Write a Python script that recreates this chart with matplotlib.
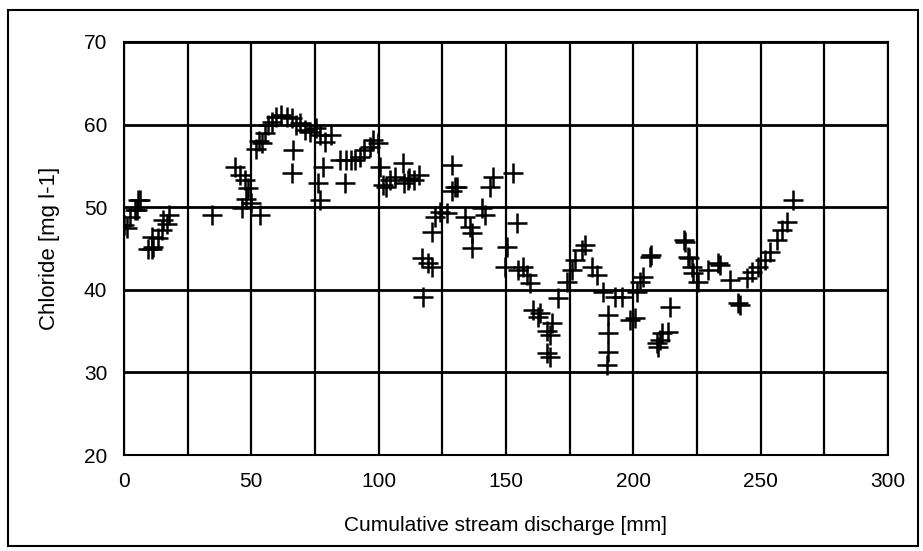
import matplotlib
matplotlib.use("Agg")
import matplotlib.pyplot as plt
from matplotlib.patches import Rectangle

plt.rcParams['font.family'] = ['Liberation Sans', 'DejaVu Sans']

# cumulative discharge [mm] and chloride [mg/l]
discharge = [0, 1.2, 2.4, 4.3, 5, 5.5, 6.3, 9.4, 11, 11, 11.4, 13.4, 15, 15.3, 17, 17.5,
             34.6, 43.6, 45.5, 47.5, 48.7, 48, 46.3, 50, 53.4,
             52, 53, 54.2, 55.4, 56.5, 58, 59.7, 61.6, 64, 66, 67.5, 69, 71, 73, 75.4,
             77, 79, 81.3, 85, 87, 89, 90.7, 92.6, 94.2, 96.6, 97.8, 99.7,
             66.4, 66, 78, 76.2, 77, 86.8,
             100.5, 101.7, 103, 104.4, 106.4, 109.5, 110, 111.5, 112, 114, 116,
             117, 117.4, 119.4, 121, 121, 122, 124, 126.8, 128.8, 129, 130, 130.7,
             134, 136, 136.6, 136.6, 140.6, 141.7, 143.7, 145, 152.7, 154.3,
             150.4, 149.6, 154.7, 156.7, 158.2, 159.4, 160.6, 162.5, 163.3, 166, 166,
             167.3, 167.3, 168, 170.4, 174, 175.9, 177, 179.8, 181, 183.7, 185.7,
             188, 190, 190, 190, 189.6, 192.8, 195.5, 198.7, 200.6, 201.4, 202.6,
             203.8, 206.5, 207, 209.3, 210.4, 209.7, 211.2, 213.6, 214.4,
             220, 220.3, 221.4, 222, 223, 223.4, 225.4, 229.3, 233.2, 234, 238,
             241, 241.9, 244.6, 246.6, 249, 251.7, 253.6, 256.4, 258.3, 260.3, 262.7]
chloride = [47.8, 47.5, 48.8, 49.7, 49.7, 50.9, 50.9, 45, 46.4, 45, 45.2, 46.3, 47.2, 48.4, 48, 49,
            49.1, 54.9, 53.9, 53.3, 52.3, 51, 49.9, 50.5, 49.1,
            57, 58, 57.8, 59, 60, 60.3, 60.9, 61.2, 60.9, 60.8, 60, 60.2, 59.3, 59.1, 59.6,
            58.7, 57.9, 58.7, 55.7, 55.7, 55.7, 55.7, 56.1, 56.9, 57.3, 58.1, 57.8,
            56.9, 54.1, 54.9, 52.9, 50.9, 52.9,
            54.9, 52.7, 52.4, 53.3, 53.6, 55.3, 52.9, 53.3, 53.5, 53.3, 53.9,
            43.9, 39.1, 43.2, 47, 42.8, 48.8, 49.4, 49.3, 52, 55.1, 52.4, 52.4,
            48.8, 47.6, 46.9, 45.1, 49.9, 49.1, 52.4, 53.7, 54.1, 48.1,
            45.2, 42.8, 42.4, 42.8, 41.8, 40.8, 37.6, 36.7, 37.2, 35, 32.4,
            34.5, 31.9, 36, 39, 41, 42.4, 43.6, 44.8, 45.4, 42.8, 41.8,
            39.7, 37, 34.8, 32.5, 30.9, 39.1, 39.1, 36.3, 36.6, 39.7, 41,
            41.5, 44, 44.2, 33.6, 33.9, 33.1, 34.8, 34.9, 37.9,
            46, 45.8, 44, 43.8, 42.8, 42, 41, 42.4, 43.2, 43, 41.2,
            38.4, 38.2, 41.4, 42.2, 42.8, 43.6, 44.6, 46, 47.2, 48.2, 50.9]

x_ticks = [0, 50, 100, 150, 200, 250, 300]
y_ticks = [20, 30, 40, 50, 60, 70]

fig = plt.figure(figsize=(9.23, 5.51), dpi=100)
ax = fig.add_axes([0.1343, 0.1742, 0.8277, 0.7496])

ax.plot(discharge, chloride, '+', color='black', markersize=15, markeredgewidth=1.8)

ax.set_xlim(0, 300)
ax.set_ylim(20, 70)
ax.set_xticks(x_ticks)
ax.set_yticks(y_ticks)
ax.set_xticks(range(0, 301, 25), minor=True)
ax.grid(True, which='major', axis='y', color='black', linewidth=2)
ax.grid(True, which='both', axis='x', color='black', linewidth=1.6)
ax.set_axisbelow(True)
ax.tick_params(which='both', length=0, labelsize=15, pad=12)
for s in ax.spines.values():
    s.set_linewidth(1.5)

ax.set_xlabel('Cumulative stream discharge [mm]', fontsize=15, labelpad=18)
ax.set_ylabel('Chloride [mg l-1]', fontsize=16, labelpad=17)

fig.patches.append(Rectangle((8 / 923, 5 / 551), 910 / 923, 536 / 551, transform=fig.transFigure,
                             fill=False, edgecolor='black', linewidth=1.5))

fig.savefig('out.png', dpi=100)
